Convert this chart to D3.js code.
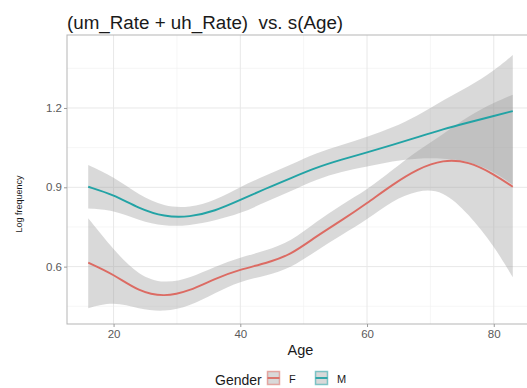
<!DOCTYPE html>
<html>
<head>
<meta charset="utf-8">
<script src="https://cdn.jsdelivr.net/npm/d3@7"></script>
<style>
  html, body { margin: 0; padding: 0; background: #fff; }
  svg { display: block; font-family: "Liberation Sans", Arial, Helvetica, sans-serif; }
</style>
</head>
<body>
<svg id="chart" width="527" height="388"></svg>
<script>
// Smoothed fits of log frequency against age, with confidence bands, by gender
const ages  = [16, 20, 24, 28, 32, 36, 40, 44, 48, 52, 56, 60, 64, 68, 72, 76, 80, 83];

const fitM  = [0.902, 0.872, 0.820, 0.788, 0.787, 0.810, 0.852, 0.895, 0.935, 0.975, 1.005, 1.032, 1.060, 1.090, 1.120, 1.145, 1.170, 1.188];
const lowM  = [0.820, 0.814, 0.775, 0.752, 0.755, 0.775, 0.800, 0.845, 0.885, 0.930, 0.960, 0.978, 1.000, 1.010, 1.010, 1.000, 0.960, 0.910];
const highM = [0.984, 0.940, 0.870, 0.826, 0.822, 0.850, 0.902, 0.945, 0.985, 1.030, 1.060, 1.090, 1.125, 1.170, 1.230, 1.280, 1.340, 1.400];

const fitF  = [0.615, 0.571, 0.505, 0.485, 0.508, 0.555, 0.590, 0.612, 0.645, 0.715, 0.775, 0.840, 0.910, 0.970, 1.005, 0.998, 0.950, 0.902];
const lowF  = [0.443, 0.468, 0.440, 0.428, 0.450, 0.500, 0.545, 0.565, 0.595, 0.660, 0.720, 0.777, 0.850, 0.890, 0.890, 0.800, 0.680, 0.560];
const highF = [0.783, 0.663, 0.565, 0.535, 0.556, 0.600, 0.635, 0.660, 0.695, 0.770, 0.835, 0.890, 0.965, 1.040, 1.100, 1.170, 1.220, 1.250];

const genders = ["F", "M"];
const xTicks = [20, 40, 60, 80];
const xMinor = [10, 30, 50, 70];
const yTicks = [0.6, 0.9, 1.2];
const yMinor = [0.45, 0.75, 1.05, 1.35];

const titleText = "(um_Rate + uh_Rate)  vs. s(Age)";
const xTitle = "Age";
const yTitle = "Log frequency";
const legendTitle = "Gender";

const colors = { F: "#dc6b63", M: "#22a3a5" };

const series = [
  { key: "F", fit: fitF, low: lowF, high: highF },
  { key: "M", fit: fitM, low: lowM, high: highM }
];

const svg = d3.select("#chart");
const panel = { left: 67, right: 534, top: 35, bottom: 324 };

const x = d3.scaleLinear().domain([12.65, 86.35]).range([panel.left, panel.right]);
const y = d3.scaleLinear().domain([0.383, 1.476]).range([panel.bottom, panel.top]);

// panel background and grid
svg.append("rect")
  .attr("x", panel.left).attr("y", panel.top)
  .attr("width", panel.right - panel.left).attr("height", panel.bottom - panel.top)
  .attr("fill", "#fff");

const grid = svg.append("g");
grid.selectAll(".xminor").data(xMinor.filter(d => x(d) > panel.left)).join("line")
  .attr("x1", d => x(d)).attr("x2", d => x(d))
  .attr("y1", panel.top).attr("y2", panel.bottom)
  .attr("stroke", "#f2f2f2").attr("stroke-width", 0.7);
grid.selectAll(".yminor").data(yMinor).join("line")
  .attr("x1", panel.left).attr("x2", panel.right)
  .attr("y1", d => y(d)).attr("y2", d => y(d))
  .attr("stroke", "#f2f2f2").attr("stroke-width", 0.7);
grid.selectAll(".xmajor").data(xTicks).join("line")
  .attr("x1", d => x(d)).attr("x2", d => x(d))
  .attr("y1", panel.top).attr("y2", panel.bottom)
  .attr("stroke", "#e8e8e8").attr("stroke-width", 1);
grid.selectAll(".ymajor").data(yTicks).join("line")
  .attr("x1", panel.left).attr("x2", panel.right)
  .attr("y1", d => y(d)).attr("y2", d => y(d))
  .attr("stroke", "#e8e8e8").attr("stroke-width", 1);

// confidence bands and fitted curves
const curve = d3.curveBasis;
const area = d3.area()
  .x((d, i) => x(ages[i]))
  .y0(d => y(d[0]))
  .y1(d => y(d[1]))
  .curve(curve);
const line = d3.line()
  .x((d, i) => x(ages[i]))
  .y(d => y(d))
  .curve(curve);

svg.append("g").selectAll("path").data(series).join("path")
  .attr("d", s => area(s.low.map((v, i) => [v, s.high[i]])))
  .attr("fill", "#9a9a9a")
  .attr("fill-opacity", 0.38);

svg.append("g").selectAll("path").data(series).join("path")
  .attr("d", s => line(s.fit))
  .attr("fill", "none")
  .attr("stroke", s => colors[s.key])
  .attr("stroke-width", 1.9);

// panel border
svg.append("rect")
  .attr("x", panel.left).attr("y", panel.top)
  .attr("width", panel.right - panel.left).attr("height", panel.bottom - panel.top)
  .attr("fill", "none").attr("stroke", "#b5b5b5").attr("stroke-width", 1);

// axes
const xAxis = d3.axisBottom(x).tickValues(xTicks).tickSize(3).tickPadding(3).tickFormat(d3.format("d"));
const yAxis = d3.axisLeft(y).tickValues(yTicks).tickSize(3).tickPadding(2).tickFormat(d3.format(".1f"));

const gx = svg.append("g").attr("transform", `translate(0,${panel.bottom})`).call(xAxis);
const gy = svg.append("g").attr("transform", `translate(${panel.left},0)`).call(yAxis);
[gx, gy].forEach(g => {
  g.select(".domain").remove();
  g.selectAll(".tick line").attr("stroke", "#9a9a9a");
  g.selectAll(".tick text").attr("fill", "#5a5a5a").attr("font-size", 11.5)
    .attr("font-family", "Liberation Sans, Arial, sans-serif");
});

// titles
svg.append("text")
  .attr("x", panel.left).attr("y", 29)
  .attr("font-size", 18.8).attr("fill", "#1a1a1a")
  .style("white-space", "pre")
  .text(titleText);

svg.append("text")
  .attr("x", (panel.left + panel.right) / 2).attr("y", 355)
  .attr("text-anchor", "middle")
  .attr("font-size", 14.5).attr("fill", "#1a1a1a")
  .text(xTitle);

svg.append("text")
  .attr("transform", "translate(22,204) rotate(-90)")
  .attr("text-anchor", "middle")
  .attr("font-size", 9).attr("fill", "#1a1a1a")
  .text(yTitle);

// legend
const legend = svg.append("g");
legend.append("text")
  .attr("x", 215).attr("y", 384.5)
  .attr("font-size", 14).attr("fill", "#1a1a1a")
  .text(legendTitle);

const keyX = { F: 267, M: 315 };
const items = legend.selectAll(".item").data(genders).join("g")
  .attr("transform", d => `translate(${keyX[d]},371)`);
items.append("rect")
  .attr("x", 0.5).attr("y", 0.5).attr("width", 12).attr("height", 13)
  .attr("fill", "#d9d9d9")
  .attr("stroke", d => colors[d]).attr("stroke-opacity", 0.55).attr("stroke-width", 1.5);
items.append("line")
  .attr("x1", 0.5).attr("x2", 12.5).attr("y1", 7).attr("y2", 7)
  .attr("stroke", d => colors[d]).attr("stroke-width", 1.8);
items.append("text")
  .attr("x", 22).attr("y", 12)
  .attr("font-size", 11).attr("fill", "#1a1a1a")
  .text(d => d);
</script>
</body>
</html>
